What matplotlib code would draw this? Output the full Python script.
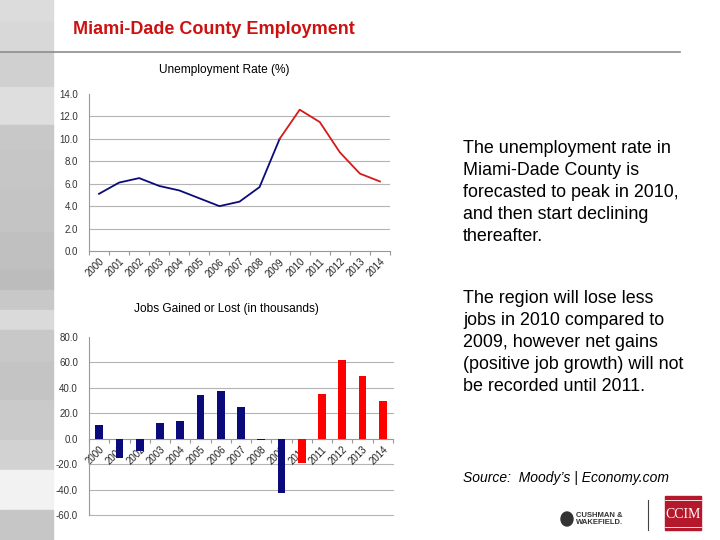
import matplotlib
matplotlib.use("Agg")
import matplotlib.pyplot as plt
from matplotlib.patches import Rectangle, Ellipse
from matplotlib.lines import Line2D

plt.rcParams["font.family"] = ["Liberation Sans", "DejaVu Sans"]

# data
years = ["2000", "2001", "2002", "2003", "2004", "2005", "2006", "2007",
         "2008", "2009", "2010", "2011", "2012", "2013", "2014"]
unemployment = [5.1, 6.1, 6.5, 5.8, 5.4, 4.7, 4.0, 4.4, 5.7, 10.0, 12.6, 11.5, 8.8, 6.9, 6.2]
jobs = [11.0, -15.5, -10.0, 12.0, 14.0, 34.5, 37.5, 25.0, -0.8, -43.0, -19.0, 35.5, 62.0, 49.5, 30.0]
forecast_start = 9  # 2009 -> red from here on (line), bars red from 2010

rate_ticks = [0.0, 2.0, 4.0, 6.0, 8.0, 10.0, 12.0, 14.0]
jobs_ticks = [-60.0, -40.0, -20.0, 0.0, 20.0, 40.0, 60.0, 80.0]

navy = "#0a0a7a"
red = "#ff0000"
grid_c = "#b4b4b4"

W, H = 720, 540
fig = plt.figure(figsize=(7.2, 5.4), dpi=100)


def fx(px):
    return px / W


def fy(py):
    return 1 - py / H


# grey strip on the left
bands = [(0, 22, "#dcdcdc"), (22, 53, "#d8d8d8"), (53, 87, "#d0d0d0"), (87, 125, "#dedede"),
         (125, 150, "#c8c8c8"), (150, 188, "#c6c6c6"), (188, 232, "#c4c4c4"), (232, 270, "#c0c0c0"),
         (270, 290, "#bcbcbc"), (290, 310, "#c8c8c8"), (310, 330, "#dadada"), (330, 362, "#c8c8c8"),
         (362, 400, "#c4c4c4"), (400, 440, "#cacaca"), (440, 470, "#d2d2d2"), (470, 510, "#f2f2f2"),
         (510, 540, "#c6c6c6")]
for y0, y1, c in bands:
    fig.patches.append(Rectangle((0, fy(y1)), fx(53), (y1 - y0) / H, transform=fig.transFigure,
                                 color=c, zorder=0))

# header
fig.text(fx(73), fy(29), "Miami-Dade County Employment", color="#cc1111", fontsize=13,
         fontweight="bold", va="center", ha="left")
fig.lines.append(Line2D([0, fx(680)], [fy(52), fy(52)], transform=fig.transFigure,
                        color="#8c8c8c", lw=1.2))

x = list(range(len(years)))

# ---- unemployment rate
ax1 = fig.add_axes([fx(89), fy(251), fx(390 - 89), (251 - 94) / H])
ax1.plot(x[:forecast_start + 1], unemployment[:forecast_start + 1], color=navy, lw=1.3, zorder=3)
ax1.plot(x[forecast_start:], unemployment[forecast_start:], color="#d41a1a", lw=1.3, zorder=3)
ax1.set_xlim(-0.5, len(years) - 0.5)
ax1.set_ylim(0, 14)
ax1.set_yticks(rate_ticks)
ax1.set_yticklabels(["%.1f" % t for t in rate_ticks], fontsize=7, color="#333333")
for t in rate_ticks[1:-1]:
    ax1.axhline(t, color=grid_c, lw=0.8, zorder=1)
fig.text(fx(224), fy(70), "Unemployment Rate (%)", fontsize=8.6, ha="center", va="center")

# ---- jobs gained or lost
ax2 = fig.add_axes([fx(89), fy(515), fx(393 - 89), (515 - 337) / H])
bar_colors = [navy if i <= forecast_start else red for i in x]
ax2.bar(x, jobs, width=0.38, color=bar_colors, zorder=3)
ax2.set_xlim(-0.5, len(years) - 0.5)
ax2.set_ylim(-60, 80)
ax2.set_yticks(jobs_ticks)
ax2.set_yticklabels(["%.1f" % t for t in jobs_ticks], fontsize=7, color="#333333")
for t in jobs_ticks[:-1]:
    if t != 0:
        ax2.axhline(t, color=grid_c, lw=0.8, zorder=1, clip_on=False)
ax2.spines["bottom"].set_position(("data", 0))
fig.text(fx(226), fy(309), "Jobs Gained or Lost (in thousands)", fontsize=8.6, ha="center", va="center")

for ax in (ax1, ax2):
    for s in ("top", "right"):
        ax.spines[s].set_visible(False)
    ax.spines["left"].set_color("#999999")
    ax.spines["bottom"].set_color("#999999")
    ax.spines["left"].set_linewidth(0.8)
    ax.spines["bottom"].set_linewidth(0.8)
    ax.set_xticks(x)
    ax.set_xticklabels(years, fontsize=7, rotation=45, ha="right", va="top",
                       rotation_mode="anchor", color="#222222")
    ax.tick_params(axis="x", length=0, pad=4)
    ax.set_xticks([i - 0.5 for i in range(len(years) + 1)], minor=True)
    ax.tick_params(axis="x", which="minor", length=3, color="#999999", width=0.8)
    ax.tick_params(axis="y", length=0, pad=8)
    ax.set_facecolor("none")

# ---- commentary
fig.text(fx(463), fy(140), "The unemployment rate in\nMiami-Dade County is\n"
         "forecasted to peak in 2010,\nand then start declining\nthereafter.",
         fontsize=12.9, ha="left", va="top", linespacing=1.38)
fig.text(fx(463), fy(290), "The region will lose less\njobs in 2010 compared to\n"
         "2009, however net gains\n(positive job growth) will not\nbe recorded until 2011.",
         fontsize=12.9, ha="left", va="top", linespacing=1.38)
fig.text(fx(463), fy(478), "Source:  Moody\u2019s | Economy.com", fontsize=10, style="italic",
         ha="left", va="center")

# ---- logos
fig.patches.append(Ellipse((fx(567), fy(519)), fx(12), 14 / H, transform=fig.transFigure,
                           color="#333333"))
fig.text(fx(576), fy(519), "CUSHMAN &\nWAKEFIELD.", fontsize=5.5, fontweight="bold",
         ha="left", va="center", color="#333333", linespacing=1.0)
fig.lines.append(Line2D([fx(648), fx(648)], [fy(530), fy(500)], transform=fig.transFigure,
                        color="#444444", lw=0.8))
fig.patches.append(Rectangle((fx(665), fy(530)), fx(36), 34 / H, transform=fig.transFigure,
                             color="#b5182b"))
for yy in (500, 527):
    fig.lines.append(Line2D([fx(665), fx(701)], [fy(yy), fy(yy)], transform=fig.transFigure,
                            color="white", lw=0.6))
fig.text(fx(683), fy(514), "CCIM", fontsize=10, family="Liberation Serif", color="white",
         ha="center", va="center")

fig.savefig("out.png", dpi=100)
